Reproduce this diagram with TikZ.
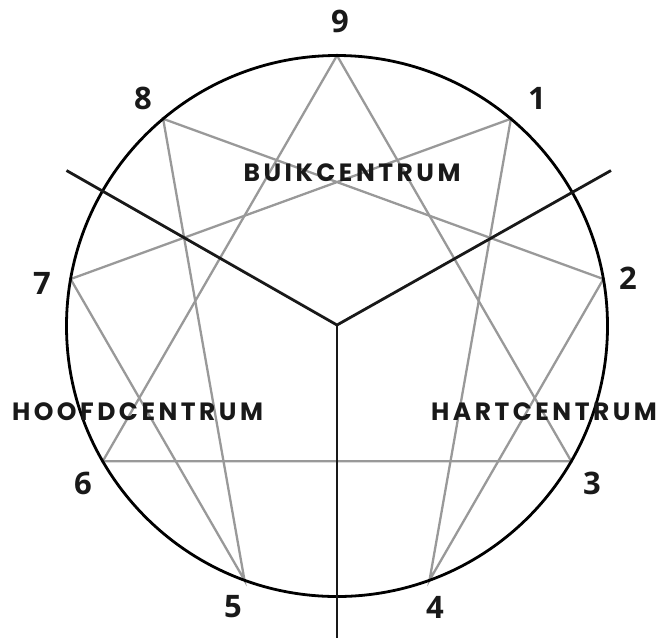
\documentclass[tikz,border=0pt]{standalone}
\usepackage{fontspec}
\usetikzlibrary{calc}
\newfontfamily\numfont{Open Sans}
\newfontfamily\labfont[LetterSpace=14]{Poppins}
\begin{document}
\begin{tikzpicture}[x=1pt,y=-1pt,
  ring/.style={draw=black,line width=2.8pt},
  figline/.style={draw=gray!80,line width=2.3pt,line join=miter},
  sepline/.style={draw=black!90,line width=2.8pt},
  numlabel/.style={font=\numfont\bfseries\fontsize{31}{31}\selectfont,text=black!90,inner sep=0pt},
  centerlabel/.style={font=\labfont\bfseries\fontsize{25}{25}\selectfont,text=black!90,inner sep=0pt}]
\useasboundingbox (0,0) rectangle (658,641);
\coordinate (O) at (337,326);
\foreach \k/\a in {9/90,1/50,2/10,3/-30,4/-70,5/-110,6/-150,7/170,8/130}{
  \coordinate (p\k) at ($(O)+(-\a:270.5)$);
}
% triangle and hexad
\draw[figline] (p9) -- (p3) -- (p6) -- cycle;
\draw[figline] (p1) -- (p4) -- (p2) -- (p8) -- (p5) -- (p7) -- cycle;
% circle
\draw[ring] (O) circle (270.5);
% separators
\coordinate (Y) at (337,325);
\coordinate (ytl) at (66.5,170.5);
\coordinate (ytr) at (611,170.5);
\coordinate (yb) at (337,638);
\draw[sepline] (ytl) -- (Y) -- (ytr);
\draw[sepline] (Y) -- (yb);
% numbers
\node[numlabel] (n9) at (340,21) {9};
\node[numlabel] (n1) at (537,98) {1};
\node[numlabel] (n2) at (628,278) {2};
\node[numlabel] (n3) at (592,483) {3};
\node[numlabel] (n4) at (435,607) {4};
\node[numlabel] (n5) at (233,607) {5};
\node[numlabel] (n6) at (83,483) {6};
\node[numlabel] (n7) at (42,283) {7};
\node[numlabel] (n8) at (143,98) {8};
% centre labels
\node[centerlabel] (buik) at (352,173) {BUIKCENTRUM};
\node[centerlabel] (hoofd) at (137.5,412) {HOOFDCENTRUM};
\node[centerlabel] (hart) at (544,412) {HARTCENTRUM};
\end{tikzpicture}
\end{document}
